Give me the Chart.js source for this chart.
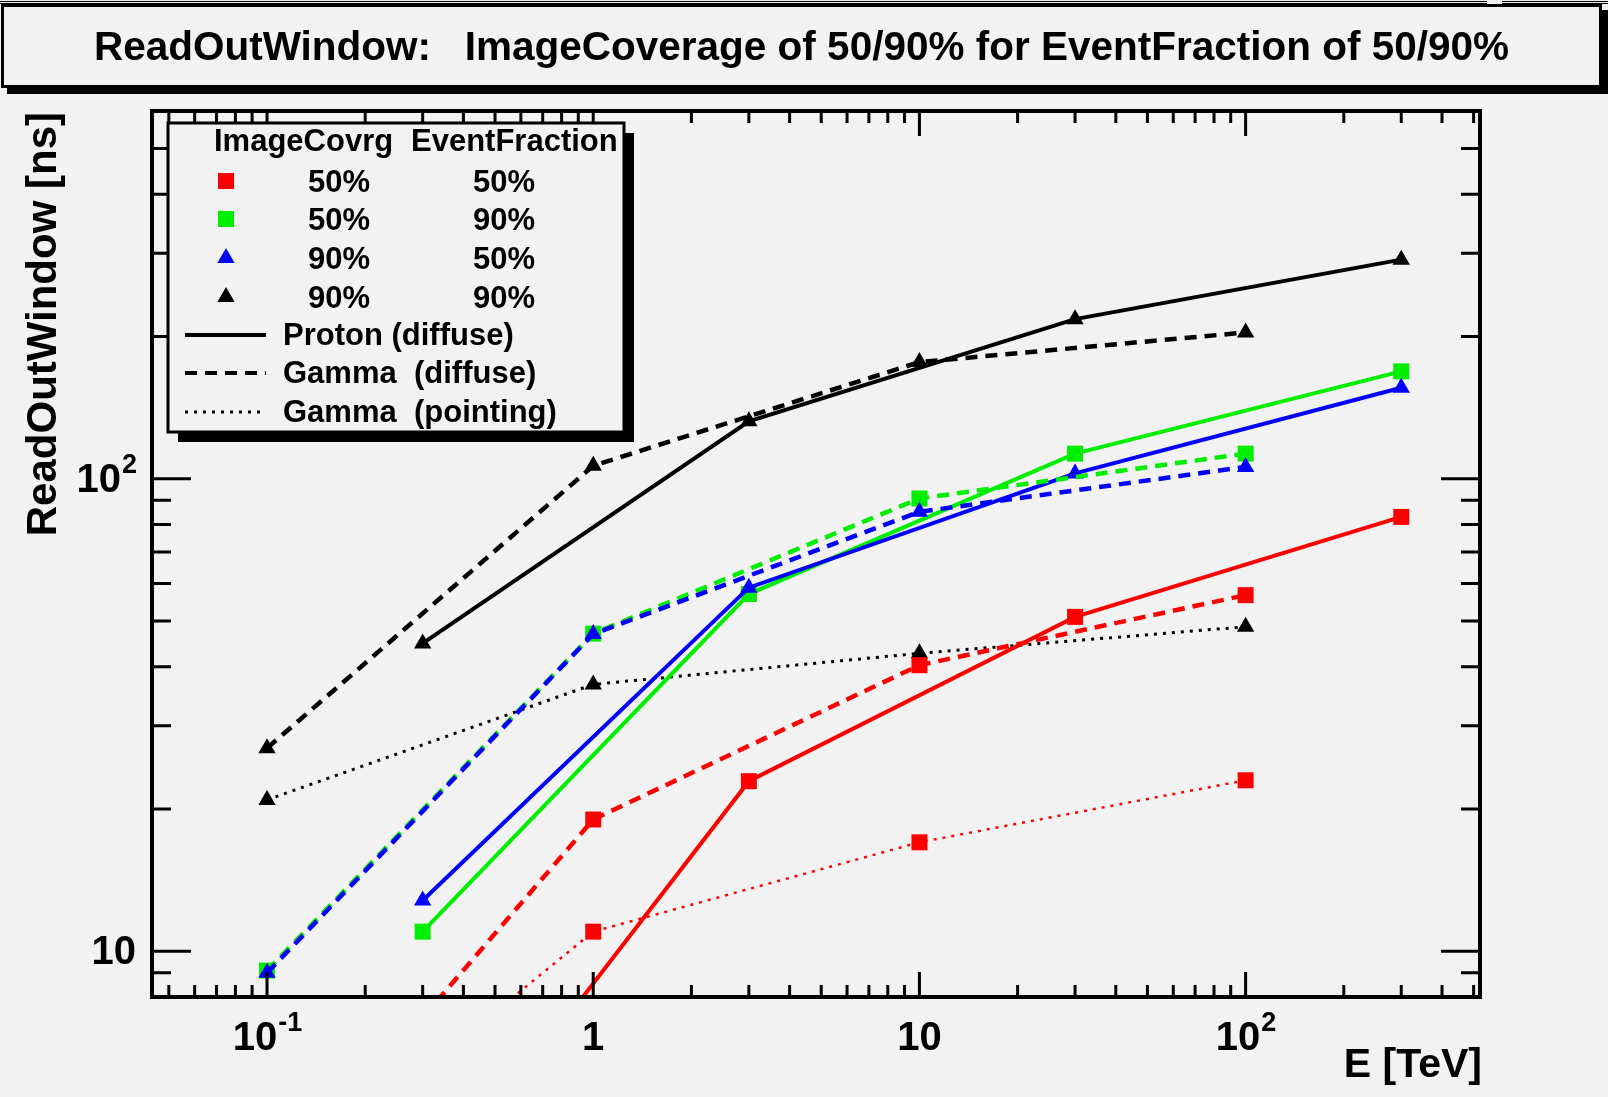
<!DOCTYPE html>
<html>
<head>
<meta charset="utf-8">
<title>ReadOutWindow</title>
<script src="https://cdn.jsdelivr.net/npm/chart.js@4.4.1/dist/chart.umd.min.js"></script>
<style>
  html, body { margin: 0; padding: 0; background: #f2f2f2; }
  #wrap { position: relative; width: 1608px; height: 1097px; overflow: hidden; }
  .rule { position: absolute; top: 1px; height: 1px; border-top: 1px solid #000; border-bottom: 1px solid #000; }
  #title {
    position: absolute; left: 1px; top: 4px; width: 1595px; height: 78px;
    border: 3px solid #000; box-shadow: 6px 6px 0 #000; background: #f2f2f2;
    display: flex; align-items: center; justify-content: center;
    font: bold 40.5px "Liberation Sans", Arial, sans-serif; color: #000; white-space: pre;
  }
  #plot { position: absolute; left: 0; top: 0; }
</style>
</head>
<body>
<div id="wrap">
  <canvas id="plot" width="1608" height="1097"></canvas>
  <div class="rule" style="left:0; width:1487px"></div>
  <div class="rule" style="left:1502px; width:106px"></div>
  <div id="title">ReadOutWindow:   ImageCoverage of 50/90% for EventFraction of 50/90%</div>
</div>
<script>
// energies of the simulated samples [TeV]
const energyGamma = [0.1, 1, 10, 100];
const energyProton = [0.3, 3, 30, 300];

// read-out window [ns], proton (diffuse)
const protonRed = [2.9, 22.9, 51.0, 83.0];
const protonGreen = [11.0, 57.0, 113.0, 168.7];
const protonBlue = [12.8, 58.8, 102.6, 155.8];
const protonBlack = [44.8, 132.3, 217.6, 290.8];

// gamma (diffuse)
const gammaRed = [3.0, 19.0, 40.3, 56.7];
const gammaGreen = [9.1, 47.0, 90.8, 113.0];
const gammaBlue = [9.0, 46.9, 85.1, 105.9];
const gammaBlack = [26.9, 106.5, 176.5, 203.9];

// gamma (pointing)
const pointingRed = [3.0, 11.0, 17.0, 23.0];
const pointingBlack = [20.9, 36.7, 42.7, 48.6];

// axis labels, drawn as base + exponent
const xLabelValues = [0.1, 1, 10, 100];
const xLabelTexts = [["10", "-1"], ["1", ""], ["10", ""], ["10", "2"]];
const yLabelValues = [10, 100];
const yLabelTexts = [["10", ""], ["10", "2"]];

const xRange = [0.0444, 523];
const yRange = [8, 600];

// legend rows : ImageCovrg / EventFraction
const legendCoverage = ["50%", "50%", "90%", "90%"];
const legendFraction = ["50%", "90%", "50%", "90%"];
const legendColors = ["#ff0000", "#00ee00", "#0000ff", "#000000"];
const legendMarkers = ["rect", "rect", "triangle", "triangle"];
const legendLines = ["Proton (diffuse)", "Gamma  (diffuse)", "Gamma  (pointing)"];

const FONT = '"Liberation Sans", Arial, sans-serif';
const RED = "#ff0000", GREEN = "#00ee00", BLUE = "#0000ff", BLACK = "#000000";
const DASH = [12, 8];
const DOT = [3, 6];

function pts( xs, ys ) {
	return xs.map( ( x, i ) => ( { x: x, y: ys[ i ] } ) );
}

function series( xs, ys, color, marker, dash, width ) {
	return {
		data: pts( xs, ys ),
		borderColor: color,
		backgroundColor: color,
		borderWidth: width,
		borderDash: dash,
		pointStyle: marker,
		pointRadius: marker === "rect" ? 11.3 : 10,
		pointBorderWidth: 0,
		pointBackgroundColor: color,
		tension: 0,
		clip: 0
	};
}

// log ticks 1..9 x 10^n inside a range
function logTicks( min, max ) {
	const out = [];
	for ( let d = Math.floor( Math.log10( min ) ); d <= Math.ceil( Math.log10( max ) ); d++ ) {
		for ( let m = 1; m <= 9; m++ ) {
			const v = m * Math.pow( 10, d );
			if ( v >= min && v <= max ) out.push( { v: v, major: m === 1 } );
		}
	}
	return out;
}

function drawPow( ctx, base, exp, x, y, align ) {
	ctx.font = "bold 40px " + FONT;
	const wb = ctx.measureText( base ).width;
	ctx.font = "bold 27px " + FONT;
	const we = exp ? ctx.measureText( exp ).width : 0;
	const left = align === "center" ? x - ( wb + we ) / 2 : x - ( wb + we );
	ctx.textAlign = "left";
	ctx.textBaseline = "middle";
	ctx.font = "bold 40px " + FONT;
	ctx.fillText( base, left, y );
	if ( exp ) {
		ctx.font = "bold 27px " + FONT;
		ctx.fillText( exp, left + wb + 1, y - 15 );
	}
}

function marker( ctx, style, x, y, color ) {
	ctx.fillStyle = color;
	ctx.beginPath();
	if ( style === "rect" ) {
		ctx.rect( x - 8, y - 8, 16, 16 );
	} else {
		ctx.moveTo( x, y - 10 );
		ctx.lineTo( x + 8.66, y + 5 );
		ctx.lineTo( x - 8.66, y + 5 );
		ctx.closePath();
	}
	ctx.fill();
}

// frame, inward ticks and axis labels
const framePlugin = {
	id: "frame",
	afterDatasetsDraw( chart ) {
		const { ctx, chartArea: a, scales: { x, y } } = chart;
		ctx.save();
		ctx.strokeStyle = BLACK;
		ctx.fillStyle = BLACK;
		ctx.lineWidth = 3;
		ctx.beginPath();
		for ( const t of logTicks( xRange[ 0 ], xRange[ 1 ] ) ) {
			const px = x.getPixelForValue( t.v );
			const len = t.major ? 25 : 12;
			ctx.moveTo( px, a.bottom );
			ctx.lineTo( px, a.bottom - len );
			ctx.moveTo( px, a.top );
			ctx.lineTo( px, a.top + len );
		}
		for ( const t of logTicks( yRange[ 0 ], yRange[ 1 ] ) ) {
			const py = y.getPixelForValue( t.v );
			const len = t.major ? 39 : 19;
			ctx.moveTo( a.left, py );
			ctx.lineTo( a.left + len, py );
			ctx.moveTo( a.right, py );
			ctx.lineTo( a.right - len, py );
		}
		ctx.stroke();

		ctx.lineWidth = 4;
		ctx.strokeRect( a.left, a.top, a.right - a.left, a.bottom - a.top );

		xLabelValues.forEach( ( v, i ) => {
			drawPow( ctx, xLabelTexts[ i ][ 0 ], xLabelTexts[ i ][ 1 ], x.getPixelForValue( v ), 1039, "center" );
		} );
		yLabelValues.forEach( ( v, i ) => {
			drawPow( ctx, yLabelTexts[ i ][ 0 ], yLabelTexts[ i ][ 1 ], 136, y.getPixelForValue( v ) + 2, "right" );
		} );

		// axis titles
		ctx.font = "bold 41px " + FONT;
		ctx.textAlign = "right";
		ctx.textBaseline = "alphabetic";
		ctx.fillText( "E [TeV]", a.right + 2, 1077 );

		ctx.save();
		ctx.font = "bold 42px " + FONT;
		ctx.translate( 56, a.top + 1 );
		ctx.rotate( -Math.PI / 2 );
		ctx.textAlign = "right";
		ctx.fillText( "ReadOutWindow [ns]", 0, 0 );
		ctx.restore();
		ctx.restore();
	}
};

// boxed legend in the upper left corner
const legendPlugin = {
	id: "boxLegend",
	afterDraw( chart ) {
		const ctx = chart.ctx;
		const bx = 168, by = 123, bw = 456, bh = 309;
		ctx.save();
		ctx.fillStyle = BLACK;
		ctx.fillRect( bx + 10, by + 10, bw, bh );
		ctx.fillStyle = "#f2f2f2";
		ctx.fillRect( bx, by, bw, bh );
		ctx.lineWidth = 3;
		ctx.strokeStyle = BLACK;
		ctx.strokeRect( bx, by, bw, bh );

		ctx.fillStyle = BLACK;
		ctx.font = "bold 31px " + FONT;
		ctx.textBaseline = "middle";
		ctx.textAlign = "left";
		ctx.fillText( "ImageCovrg", 214, 142 );
		ctx.fillText( "EventFraction", 411, 142 );

		const rowsY = [ 181, 219, 258, 297 ];
		rowsY.forEach( ( ry, i ) => {
			marker( ctx, legendMarkers[ i ], 226, ry, legendColors[ i ] );
			ctx.fillStyle = BLACK;
			ctx.textAlign = "center";
			ctx.fillText( legendCoverage[ i ], 339, ry + 2 );
			ctx.fillText( legendFraction[ i ], 504, ry + 2 );
		} );

		const lineY = [ 335, 373, 412 ];
		const dashes = [ [], DASH, DOT ];
		const widths = [ 4, 4, 3 ];
		lineY.forEach( ( ly, i ) => {
			ctx.beginPath();
			ctx.setLineDash( dashes[ i ] );
			ctx.lineWidth = widths[ i ];
			ctx.moveTo( 185, ly );
			ctx.lineTo( 266, ly );
			ctx.stroke();
			ctx.setLineDash( [] );
			ctx.textAlign = "left";
			ctx.fillText( legendLines[ i ], 283, ly + 1 );
		} );
		ctx.restore();
	}
};

new Chart( document.getElementById( "plot" ), {
	type: "line",
	data: {
		datasets: [
			series( energyGamma, gammaBlue, BLUE, "triangle", DASH, 4.5 ),
			series( energyGamma, gammaGreen, GREEN, "rect", DASH, 4.5 ),
			series( energyGamma, gammaRed, RED, "rect", DASH, 4.5 ),
			series( energyGamma, gammaBlack, BLACK, "triangle", DASH, 4.5 ),
			series( energyProton, protonBlue, BLUE, "triangle", [], 4 ),
			series( energyProton, protonGreen, GREEN, "rect", [], 4 ),
			series( energyProton, protonRed, RED, "rect", [], 4 ),
			series( energyProton, protonBlack, BLACK, "triangle", [], 4 ),
			series( energyGamma, pointingBlack, BLACK, "triangle", DOT, 3 ),
			series( energyGamma, pointingRed, RED, "rect", DOT, 2.5 )
		]
	},
	options: {
		responsive: false,
		animation: false,
		events: [],
		devicePixelRatio: 1,
		layout: {
			padding: { left: 152, top: 111, right: 128, bottom: 100 }
		},
		plugins: {
			legend: { display: false },
			tooltip: { enabled: false }
		},
		scales: {
			x: { type: "logarithmic", min: xRange[ 0 ], max: xRange[ 1 ], display: false },
			y: { type: "logarithmic", min: yRange[ 0 ], max: yRange[ 1 ], display: false }
		}
	},
	plugins: [ framePlugin, legendPlugin ]
} );
</script>
</body>
</html>
